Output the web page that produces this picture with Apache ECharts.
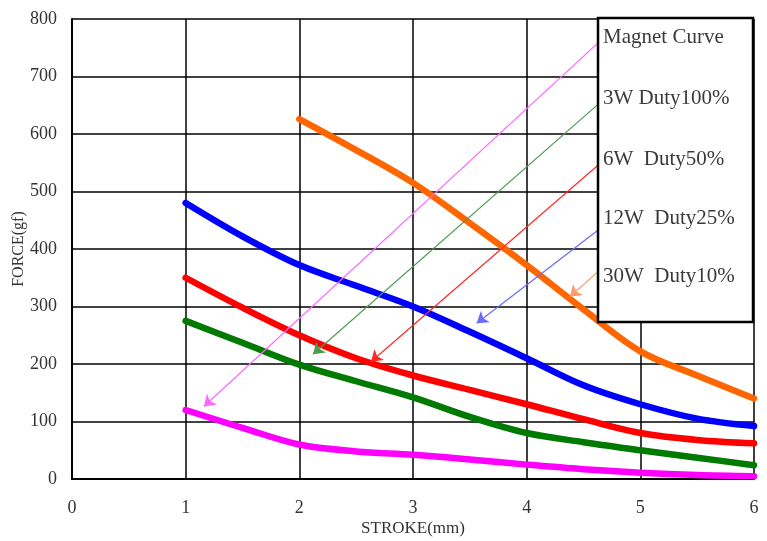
<!DOCTYPE html>
<html><head><meta charset="utf-8">
<script src="https://cdn.jsdelivr.net/npm/echarts@6/dist/echarts.min.js"></script>
<style>html,body{margin:0;padding:0;background:#fff}#c{width:767px;height:541px}</style>
</head><body><div id="c"></div>
<script>
var strokeX = [1, 1.5, 2, 2.5, 3, 3.5, 4, 4.5, 5, 5.5, 6];
var magnetCurve = [120, 89, 60, 48, 42, 34, 25, 17, 11, 7, 5];
var w3duty100 = [275, 237, 199, 170, 142, 108, 80, 64, 50, 37, 24];
var w6duty50 = [350, 298, 250, 210, 180, 155, 130, 104, 80, 68, 62];
var w12duty25 = [480, 422, 372, 336, 300, 256, 210, 163, 130, 105, 92];
var orangeX = [2, 2.5, 3, 3.5, 4, 4.5, 5, 5.5, 6];
var w30duty10 = [626, 572, 515, 445, 372, 295, 222, 180, 140];
var seriesNames = ['Magnet Curve', '3W Duty100%', '6W  Duty50%', '12W  Duty25%', '30W  Duty10%'];
var seriesColors = ['#ff00ff', '#007a00', '#ff0000', '#0000ff', '#ff6600'];
var arrowColors = ['#ff66ff', '#4f9a4f', '#ff2a2a', '#6a6aff', '#ff9a6a'];
// arrow start (legend side) and tip (curve side), in data units
var arrowStart = [[4.63, 759], [4.63, 652], [4.63, 546], [4.63, 433], [4.63, 361]];
var arrowTip = [[1.16, 126], [2.12, 217], [2.63, 204], [3.56, 271], [4.38, 317]];
var xTicks = {min: 0, max: 6, interval: 1};
var yTicks = {min: 0, max: 800, interval: 100};

function pairs(xs, ys){ return xs.map(function(x,i){ return [x, ys[i]]; }); }

var chart = echarts.init(document.getElementById('c'), null, {renderer:'canvas'});
var font = 'Liberation Serif';
var curves = [
  pairs(strokeX, magnetCurve), pairs(strokeX, w3duty100), pairs(strokeX, w6duty50),
  pairs(strokeX, w12duty25), pairs(orangeX, w30duty10)
];
var series = curves.map(function(d, i){
  return {type:'line', name: seriesNames[i], data: d, smooth: 0.35, showSymbol:false, symbol:'none',
    lineStyle:{color: seriesColors[i], width: 6.5, cap:'round'}, z: 3, silent: true};
});
series.push({
  type:'lines', coordinateSystem:'cartesian2d', z: 4, silent: true,
  symbol:['none','arrow'], symbolSize:[7,11],
  data: arrowStart.map(function(s,i){ return {coords:[s, arrowTip[i]], lineStyle:{color: arrowColors[i], width:1.2, opacity:1}}; })
});

var legendYs = [37, 98, 159, 218, 276];
var graphics = [{type:'rect', z: 10, shape:{x:598, y:18, width:155, height:304},
  style:{fill:'#fff', stroke:'#000', lineWidth:2.5}}];
seriesNames.forEach(function(n, i){
  graphics.push({type:'text', z: 11, x: 603, y: legendYs[i],
    style:{text: n, fill:'#3a3a3a', font: '21px "' + font + '"', textVerticalAlign:'middle', textAlign:'left'}});
});

chart.setOption({
  animation: false,
  backgroundColor: '#fff',
  grid: {left: 72, right: 13, top: 19, bottom: 62, show: false, containLabel: false, outerBoundsMode: 'none'},
  xAxis: {type:'value', min: xTicks.min, max: xTicks.max, interval: xTicks.interval,
    name: 'STROKE(mm)', nameLocation:'middle', nameGap: 41, nameMoveOverlap: false,
    nameTextStyle:{fontFamily: font, fontSize: 17, color:'#333'},
    axisLine:{show:true, lineStyle:{color:'#000', width:2}}, axisTick:{show:false},
    axisLabel:{fontFamily: font, fontSize: 18, color:'#333', margin: 20},
    splitLine:{show:true, lineStyle:{color:'#000', width:1.5}}},
  yAxis: {type:'value', min: yTicks.min, max: yTicks.max, interval: yTicks.interval,
    name: 'FORCE(gf)', nameLocation:'middle', nameGap: 45, nameMoveOverlap: false,
    nameTextStyle:{fontFamily: font, fontSize: 16, color:'#333'},
    axisLine:{show:true, lineStyle:{color:'#000', width:2}}, axisTick:{show:false},
    axisLabel:{fontFamily: font, fontSize: 18, color:'#333', margin: 15},
    splitLine:{show:true, lineStyle:{color:'#000', width:1.5}}},
  series: series,
  graphic: graphics
});
</script></body></html>
